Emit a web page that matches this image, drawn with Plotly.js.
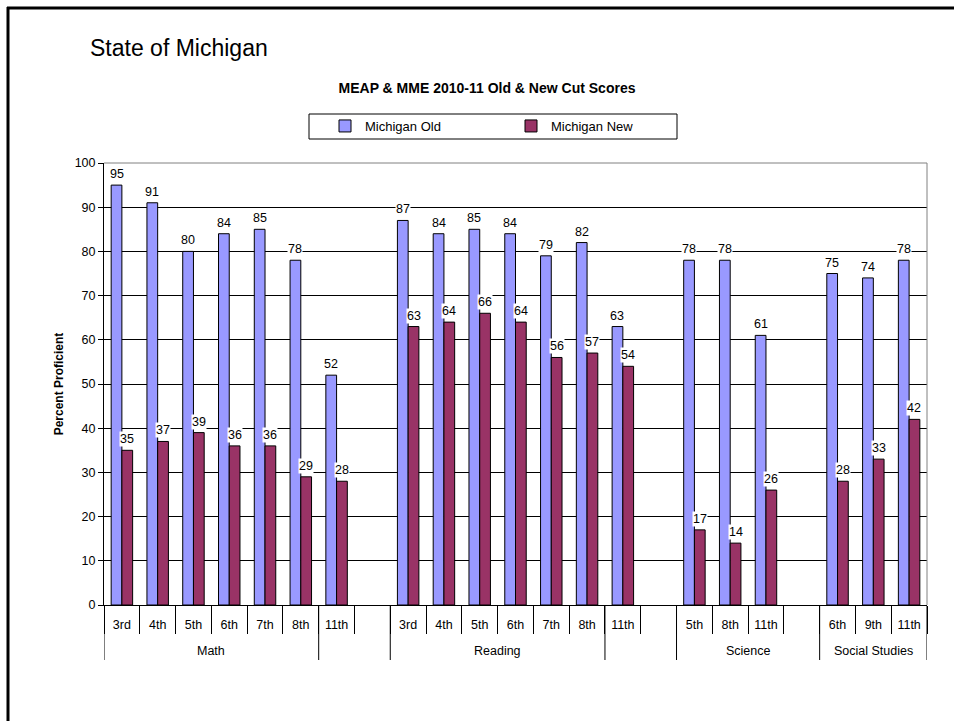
<!DOCTYPE html>
<html>
<head>
<meta charset="utf-8">
<script src="https://cdn.plot.ly/plotly-3.0.1.min.js"></script>
<style>
  body { margin: 0; background: #fff; }
  #chart { width: 954px; height: 721px; }
</style>
</head>
<body>
<div id="chart"></div>
<script>
// grade slots along the x axis, blanks are the spacer slots between subjects
const grades = ['3rd', '4th', '5th', '6th', '7th', '8th', '11th', '',
                '3rd', '4th', '5th', '6th', '7th', '8th', '11th', '',
                '5th', '8th', '11th', '',
                '6th', '9th', '11th'];
const oldScores = [95, 91, 80, 84, 85, 78, 52, null,
                   87, 84, 85, 84, 79, 82, 63, null,
                   78, 78, 61, null,
                   75, 74, 78];
const newScores = [35, 37, 39, 36, 36, 29, 28, null,
                   63, 64, 66, 64, 56, 57, 54, null,
                   17, 14, 26, null,
                   28, 33, 42];
const subjects = ['Math', '', 'Reading', '', 'Science', 'Social Studies'];
const subjectSpans = [6, 2, 6, 2, 4, 3];

const W = 954, H = 721;
const margin = { l: 104, r: 27, t: 163, b: 116 };
const plotW = W - margin.l - margin.r;
const plotH = H - margin.t - margin.b;
// pixel -> paper helpers for the slide decoration
const px = x => (x - margin.l) / plotW;
const py = y => (H - margin.b - y) / plotH;

const FONT = 'Liberation Sans, Arial, sans-serif';
const idx = grades.map((g, i) => i);

const traceOld = {
    type: 'bar',
    name: 'Michigan Old',
    x: idx,
    y: oldScores,
    marker: { color: '#9999FF', line: { color: '#000', width: 1 } },
    hoverinfo: 'y'
};
const traceNew = {
    type: 'bar',
    name: 'Michigan New',
    x: idx,
    y: newScores,
    marker: { color: '#993366', line: { color: '#000', width: 1 } },
    hoverinfo: 'y'
};

function valueLabels(values, offset) {
    return values.map((v, i) => v == null ? null : {
        x: i + offset, y: v, xref: 'x', yref: 'y',
        text: String(v), showarrow: false,
        yanchor: 'bottom', yshift: 3,
        bgcolor: '#fff', borderpad: 0,
        font: { family: FONT, size: 12.5, color: '#000' }
    }).filter(a => a);
}

// subject boundaries and labels under the grade labels
let shapes = [];
let annotations = [];
let start = 0;
const boundaries = [-0.5];
subjects.forEach((name, k) => {
    const end = start + subjectSpans[k];
    boundaries.push(end - 0.5);
    if (name) {
        annotations.push({
            x: (start + end - 1) / 2, y: py(651), xref: 'x', yref: 'paper',
            text: name, showarrow: false, yanchor: 'middle',
            font: { family: FONT, size: 12.5, color: '#000' }
        });
    }
    start = end;
});
boundaries.forEach(b => {
    shapes.push({ type: 'line', xref: 'x', yref: 'paper', x0: b, x1: b, y0: 0, y1: py(660),
                  line: { color: '#000', width: 1 } });
});

// plot area border (top/right) in gray
shapes.push({ type: 'line', xref: 'paper', yref: 'paper', x0: 0, x1: 1, y0: 1, y1: 1,
              line: { color: '#808080', width: 1 }, layer: 'above' });
shapes.push({ type: 'line', xref: 'paper', yref: 'paper', x0: 1, x1: 1, y0: 0, y1: 1,
              line: { color: '#808080', width: 1 }, layer: 'above' });
// legend box
shapes.push({ type: 'rect', xref: 'paper', yref: 'paper', x0: px(309), x1: px(677), y0: py(139), y1: py(114),
              line: { color: '#000', width: 1 } });
// slide frame
shapes.push({ type: 'line', xref: 'paper', yref: 'paper', x0: px(8), x1: px(8), y0: py(7), y1: py(740),
              line: { color: '#000', width: 3 } });
shapes.push({ type: 'line', xref: 'paper', yref: 'paper', x0: px(7), x1: px(970), y0: py(8), y1: py(8),
              line: { color: '#000', width: 3 } });

annotations.push({
    x: px(88), y: py(48), xref: 'paper', yref: 'paper', xanchor: 'left', yanchor: 'middle',
    text: 'State of Michigan', showarrow: false,
    font: { family: FONT, size: 23, color: '#000' }
});

annotations = annotations.concat(valueLabels(oldScores, -0.15), valueLabels(newScores, 0.15));

const layout = {
    width: W, height: H,
    margin: margin,
    paper_bgcolor: '#fff',
    plot_bgcolor: '#fff',
    font: { family: FONT, size: 12.5, color: '#000' },
    title: {
        text: '<b>MEAP & MME 2010-11 Old & New Cut Scores</b>',
        x: 487 / W, xanchor: 'center', xref: 'container',
        y: 1 - 88 / H, yanchor: 'middle', yref: 'container',
        font: { family: FONT, size: 14, color: '#000' }
    },
    barmode: 'group',
    bargap: 0.4,
    bargroupgap: 0,
    showlegend: true,
    legend: {
        orientation: 'h',
        x: px(325), xanchor: 'left',
        y: py(126), yanchor: 'middle',
        bgcolor: 'rgba(0,0,0,0)',
        borderwidth: 0,
        entrywidth: 141,
        font: { family: FONT, size: 13, color: '#000' }
    },
    xaxis: {
        range: [-0.5, grades.length - 0.5],
        tickmode: 'array',
        tickvals: idx,
        ticktext: grades,
        ticks: '',
        ticklabelstandoff: 8,
        showgrid: false,
        zeroline: false,
        showline: true,
        linecolor: '#000',
        linewidth: 1,
        minor: { tickmode: 'linear', tick0: -0.5, dtick: 1, ticks: 'outside', ticklen: 28,
                 tickcolor: '#000', tickwidth: 1, showgrid: false },
        fixedrange: true
    },
    yaxis: {
        range: [0, 100],
        dtick: 10,
        ticks: 'outside',
        ticklen: 5,
        tickcolor: '#000',
        showline: true,
        linecolor: '#000',
        showgrid: true,
        gridcolor: '#000',
        gridwidth: 1,
        zeroline: false,
        title: { text: '<b>Percent Proficient</b>', standoff: 8,
                 font: { family: FONT, size: 12, color: '#000' } },
        fixedrange: true
    },
    shapes: shapes,
    annotations: annotations
};

Plotly.newPlot('chart', [traceOld, traceNew], layout, { displayModeBar: false, staticPlot: true });
</script>
</body>
</html>
